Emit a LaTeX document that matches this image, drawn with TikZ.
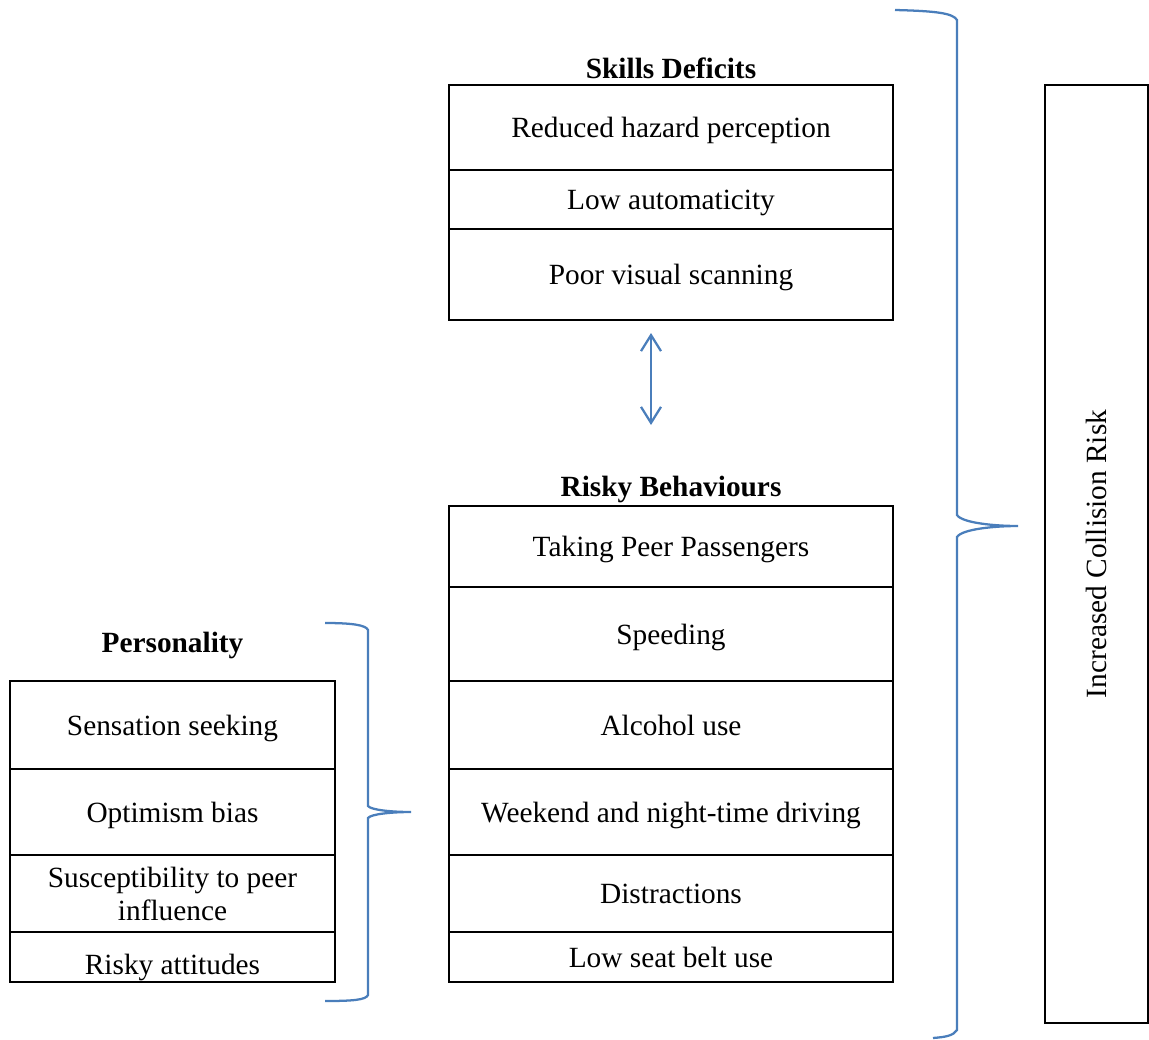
\documentclass[tikz,border=0pt]{standalone}
\usepackage{fontspec}
\setmainfont{Liberation Serif}
\usetikzlibrary{arrows.meta,calc}

\definecolor{braceblue}{RGB}{74,126,187}

\tikzset{
  row/.style={draw, line width=1.5pt, inner sep=0pt, outer sep=0pt, align=center, text depth=0pt,
    font=\fontsize{22}{24.75}\selectfont},
  wide/.style={row, minimum width=333pt},
  narrow/.style={row, minimum width=243.75pt},
  heading/.style={inner sep=0pt, font=\fontsize{22}{24}\selectfont\bfseries},
  curly/.style={draw=braceblue, line width=1.7pt},
  link/.style={draw=braceblue, line width=1.7pt, {Straight Barb[length=12pt,width=15pt]}-{Straight Barb[length=12pt,width=15pt]}}
}

\begin{document}
\begin{tikzpicture}[x=0.75pt,y=0.75pt,yscale=-1,xscale=1]
        \useasboundingbox (0,0) rectangle (1149,1039);

        % Skills Deficits
        \node[heading] (skt) at (671,68) {Skills Deficits};
        \node[wide, minimum height=63.75pt] (hp) at (671,127.5) {Reduced hazard perception};
        \node[wide, minimum height=44.25pt] (la) at (671,199.5) {Low automaticity};
        \node[wide, minimum height=68.25pt] (vs) at (671,274.5) {Poor visual scanning};

        % Risky Behaviours
        \node[heading] (rbt) at (671,489) {Risky Behaviours};
        \node[wide, minimum height=60.75pt] (pp) at (671,546.5) {Taking Peer Passengers};
        \node[wide, minimum height=70.5pt] (sp) at (671,634) {Speeding};
        \node[wide, minimum height=66pt] (al) at (671,725) {Alcohol use};
        \node[wide, minimum height=64.5pt] (wn) at (671,812) {Weekend and night-time driving};
        \node[wide, minimum height=57.75pt] (di) at (671,893.5) {Distractions};
        \node[wide, minimum height=37.5pt] (sb) at (671,957) {Low seat belt use};

        % Personality
        \node[heading] (pst) at (172.5,645) {Personality};
        \node[narrow, minimum height=66pt] (ss) at (172.5,725) {Sensation seeking};
        \node[narrow, minimum height=64.5pt] (ob) at (172.5,812) {Optimism bias};
        \node[narrow, minimum height=57.75pt] (pi) at (172.5,893.5) {Susceptibility to peer\\influence};
        \node[narrow, minimum height=37.5pt, text height=26pt] (ra) at (172.5,957) {Risky attitudes};

        % Outcome
        \node[row, minimum width=77.25pt, minimum height=703.5pt] (cr) at (1096.5,554) {};
        \node[rotate=90, inner sep=0pt, font=\fontsize{22}{24}\selectfont] (crt) at (cr.center) {Increased Collision Risk};

        % skills <-> behaviours
        \draw[link] ($(vs.south)+(-20,13)$) -- ($(pp.north)+(-20,-81)$);

        % braces
        \draw[curly] (895,10) .. controls (935,11) and (953,13) .. (957,20) -- (957,515) .. controls (962,523) and (995,526) .. (1018,526) .. controls (995,526) and (962,529) .. (957,537) -- (957,1030) .. controls (953,1036) and (945,1037) .. (933,1038);
        \draw[curly] (325,623) .. controls (352,623) and (366,625) .. (368,630) -- (368,806) .. controls (371,810) and (392,812) .. (411,812) .. controls (392,812) and (371,814) .. (368,818) -- (368,995) .. controls (366,1000) and (352,1001) .. (325,1001);

\end{tikzpicture}
\end{document}
